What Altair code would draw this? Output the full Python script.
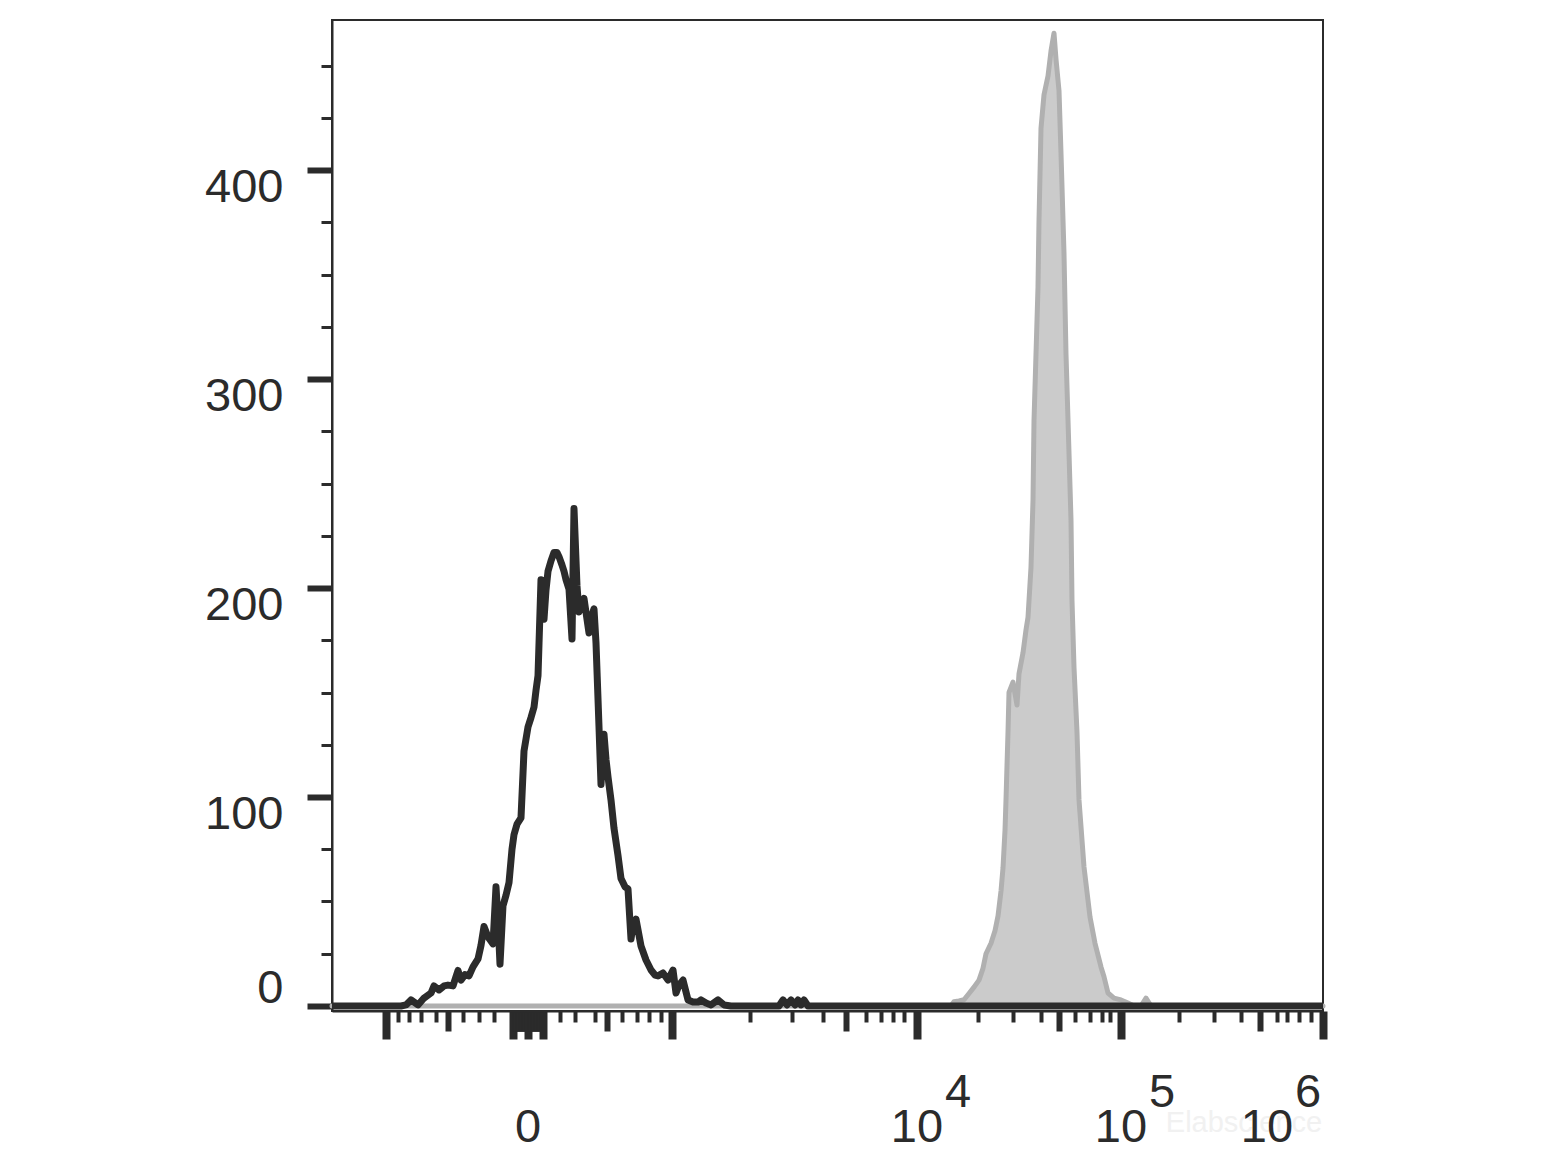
import altair as alt
import pandas as pd

# ---------------- data (x in display channels, 0..991) ----------------
black_x = [0, 69, 74, 79, 86, 92, 99, 102, 107, 112, 116, 121, 126, 129, 133, 137, 141, 146,
           149, 152, 156, 161, 164, 166, 168, 171, 174, 177, 180, 182, 185, 189, 192, 196,
           199, 202, 204, 206, 209, 212, 214, 216, 219, 222, 225, 227, 230, 232, 234, 237,
           240, 242, 245, 247, 249, 252, 255, 257, 260, 262, 264, 267, 269, 272, 274, 276,
           279, 282, 286, 289, 293, 296, 299, 301, 304, 309, 314, 319, 323, 326, 331, 336,
           341, 344, 347, 351, 356, 361, 366, 369, 374, 379, 386, 392, 399, 447, 451, 455,
           459, 463, 466, 469, 472, 476, 991]
black_count = [0, 0, 0.5, 2.9, 0.5, 3.8, 6.2, 9.6, 7.7, 9.6, 10, 9.6, 17, 12.4, 15, 14.4, 18.7, 22.5,
               29, 38, 33, 29.7, 57, 41, 20, 48, 53, 59, 75, 82, 87, 90, 122, 133.5,
               138, 143, 151, 158, 204, 185, 199, 208, 213, 217, 217, 215, 211, 208, 204, 199.5,
               175.6, 238, 201, 188.5, 192, 195, 185, 178.5, 187, 190, 173.7, 133.5, 106, 130, 118, 109.6,
               98.6, 85, 72, 61, 57, 56, 32, 38.8, 41.6, 28.7, 22, 17.2, 14.8, 14.4, 15.8, 12.4,
               17.2, 6.2, 10, 12.4, 2.9, 1.9, 1.9, 2.9, 1.4, 0.5, 2.9, 0.5, 0, 0, 2.9, 0.5,
               2.9, 0.5, 2.9, 0.5, 2.9, 0, 0]

gray_x = [0, 619, 622, 627, 632, 637, 642, 647, 651, 654, 659, 663, 666, 669, 671, 673, 674, 675,
          676, 677, 681, 685, 687, 691, 694, 696, 699, 701, 702, 704, 706, 707, 709, 712, 716,
          719, 722, 724, 727, 729, 732, 734, 737, 739, 740, 742, 745, 747, 752, 758, 763, 769,
          772, 776, 782, 789, 796, 802, 809, 814, 819, 991]
gray_count = [0, 0, 2, 2.4, 3, 6, 9, 12.4, 18, 25, 30, 36, 43, 55, 66, 84, 98.6, 115,
              131, 150, 155, 144, 159, 169, 180, 186, 210, 242, 280, 312, 344, 376, 420, 436, 445,
              457, 465.5, 453, 438, 408, 360, 312, 264.6, 232.5, 194, 162, 131, 98.6, 66.5, 42.6, 30, 18.7,
              14, 6.2, 3.8, 2.9, 1.4, 0, 0, 3.8, 0, 0]

# axis ticks
y_ticks = [0, 25, 50, 75, 100, 125, 150, 175, 200, 225, 250, 275, 300, 325, 350, 375, 400, 425, 450]
y_major = [0, 100, 200, 300, 400]

x_major = [54, 181, 196, 211, 340, 585, 789, 991]
x_medium = [116, 275, 514, 727, 928,
            182.5, 184, 185.5, 187, 188.5, 190, 191.5, 193, 194.5,
            197.5, 199, 200.5, 202, 203.5, 205, 206.5, 208, 209.5]
x_minor = [66, 77, 89, 104, 131, 147, 162,
           228, 243, 263, 290, 305, 317, 329,
           418, 460, 491, 534, 549, 561, 572,
           646, 681, 709, 743, 758, 770, 778,
           847, 882, 909, 945, 955, 967, 979]

x_label_pos = [196, 585, 789, 935]
x_label_base = ["0", "10", "10", "10"]
x_label_exp = ["", "4", "5", "6"]

# ---------------- style ----------------
DARK = "#2b2b2b"
FONT = "Liberation Sans"
W = H = 991


def arr(v):
    return "[" + ",".join(str(a) for a in v) + "]"


major_test = f"indexof({arr(x_major)}, datum.value) >= 0"
medium_test = f"indexof({arr(x_medium)}, datum.value) >= 0"
ymajor_test = f"indexof({arr(y_major)}, datum.value) >= 0"

xscale = alt.Scale(domain=[0, 991], nice=False, zero=False)
yscale = alt.Scale(domain=[-2.4, 471.8], nice=False, zero=False)

x_axis = alt.Axis(
    values=sorted(x_major + x_medium + x_minor), tickCount=500,
    labels=False, title=None, grid=False,
    domainColor=DARK, domainWidth=2,
    tickColor=DARK,
    tickSize={"condition": [{"test": major_test, "value": 28},
                            {"test": medium_test, "value": 20}], "value": 11},
    tickWidth={"condition": [{"test": major_test, "value": 8},
                             {"test": medium_test, "value": 6}], "value": 4},
)

y_axis = alt.Axis(
    values=y_ticks, tickCount=100, title=None, grid=False,
    domainColor=DARK, domainWidth=2,
    tickColor=DARK,
    tickSize={"condition": {"test": ymajor_test, "value": 25}, "value": 11},
    tickWidth={"condition": {"test": ymajor_test, "value": 6}, "value": 3},
    labelExpr=f"{ymajor_test} ? datum.label : ''",
    labelFont=FONT, labelFontSize=47, labelColor=DARK,
    labelPadding=24,
    labelOffset={"condition": {"test": "datum.value == 0", "value": -17}, "value": 17},
    labelFlush=False, labelOverlap=False, labelBound=False,
)

black_df = pd.DataFrame({"ch": black_x, "count": black_count})
gray_df = pd.DataFrame({"ch": gray_x, "count": gray_count})
lab_df = pd.DataFrame({"ch": x_label_pos, "base": x_label_base, "exp": x_label_exp})
wm_df = pd.DataFrame({"ch": [912], "t": ["Elabscience"]})

gray = alt.Chart(gray_df).mark_area(
    color="#cbcbcb", stroke="#b0b0b0", strokeWidth=5, strokeJoin="round", interpolate="linear"
).encode(
    x=alt.X("ch:Q", scale=xscale, axis=x_axis),
    y=alt.Y("count:Q", scale=yscale, axis=y_axis),
)

black = alt.Chart(black_df).mark_line(
    color=DARK, strokeWidth=7, strokeJoin="round", interpolate="linear"
).encode(
    x=alt.X("ch:Q", scale=xscale),
    y=alt.Y("count:Q", scale=yscale),
)

watermark = alt.Chart(wm_df).mark_text(
    font=FONT, fontSize=29, color="#f1f1f1", align="center", baseline="alphabetic", y=1112
).encode(x=alt.X("ch:Q", scale=xscale), text="t:N")

base_labels = alt.Chart(lab_df).mark_text(
    font=FONT, fontSize=47, color=DARK, align="center", baseline="alphabetic", y=1122
).encode(x=alt.X("ch:Q", scale=xscale), text="base:N")

exp_labels = alt.Chart(lab_df).mark_text(
    font=FONT, fontSize=47, color=DARK, align="left", baseline="alphabetic", y=1087, dx=28
).encode(x=alt.X("ch:Q", scale=xscale), text="exp:N")

chart = alt.layer(gray, black, watermark, base_labels, exp_labels).properties(
    width=W, height=H,
    padding={"left": 196, "top": 12, "right": 10, "bottom": 10},
    background="white",
).configure_view(stroke=DARK, strokeWidth=2)

chart.save("out.html", embed_options={"renderer": "svg", "actions": False})
